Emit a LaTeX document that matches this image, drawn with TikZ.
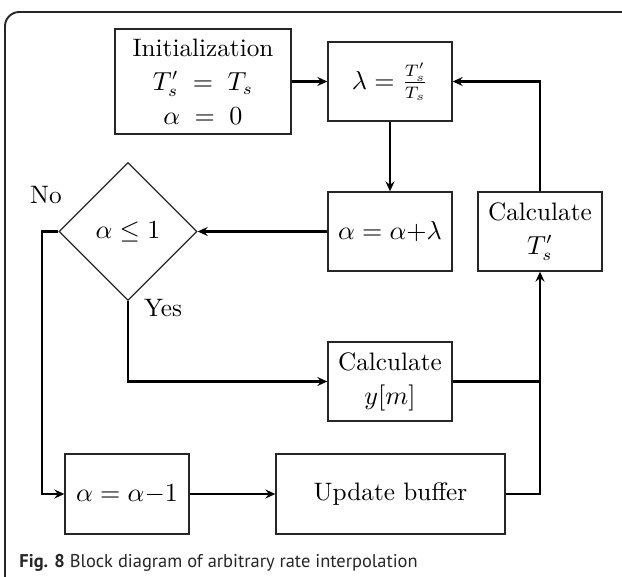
\documentclass[tikz,border=0pt]{standalone}
\usepackage{fontspec}
\newfontfamily\captionfont{PT Sans}
\usetikzlibrary{shapes.geometric,arrows.meta}
\tikzset{
	blockbox/.style={draw=black!85, line width=0.55pt, inner sep=0pt,
		minimum width=52.1pt, minimum height=33.2pt, align=center},
	entscheidung/.style={diamond, draw=black!85, line width=0.55pt,
		inner sep=0pt, minimum width=58pt, minimum height=58pt, aspect=1},
	pfeil/.style={line width=0.85pt, -{Stealth[length=4.2pt,width=3.8pt,inset=1.5pt]}},
	linie/.style={line width=0.85pt},
}
\begin{document}
\begin{tikzpicture}[x=0.42pt, y=-0.42pt, font=\fontsize{10.6}{14.2}\selectfont]
	\useasboundingbox (0,0) rectangle (622,577);
	% Rahmen
	\draw[line width=0.8pt, draw=black!85, rounded corners=6pt] (5,12) rectangle (660,620);
	% Bloecke
	\node[blockbox, minimum width=73.9pt, minimum height=44.1pt] (init) at (203,81.5)
		{Initialization\\ $T'_s \;=\; T_s$\\ $\alpha \;=\; 0$};
	\node[blockbox] (lambda) at (390,81.5) {$\lambda = \frac{T'_s}{T_s}$};
	\node[blockbox] (addl) at (390,231.5) {$\alpha = \alpha{+}\lambda$};
	\node[blockbox] (calct) at (540,231.5) {Calculate\\ $T'_s$};
	\node[entscheidung] (cond) at (128,231.5) {$\alpha \leq 1$};
	\node[blockbox] (calcy) at (390,381.5) {Calculate\\ $y[m]$};
	\node[blockbox, minimum height=33.6pt] (subone) at (127,494) {$\alpha = \alpha{-}1$};
	\node[blockbox, minimum width=96.2pt, minimum height=33.6pt] (update) at (390.5,494)
		{Update buffer};
	% Beschriftungen
	\node (no) at (46,195) {No};
	\node (yes) at (163,308) {Yes};
	% Hilfspunkte
	\coordinate (nocorner) at (42,231.5);
	\coordinate (joint) at (calcy.east -| calct.south);
	% Verbindungen
	\draw[pfeil] (init) -- (lambda);
	\draw[pfeil] (calct.north) |- (lambda.east);
	\draw[pfeil] (lambda) -- (addl);
	\draw[pfeil] (addl) -- (cond);
	\draw[pfeil] (cond.west) -- (nocorner) |- (subone.west);
	\draw[pfeil] (cond.south) |- (calcy.west);
	\draw[pfeil] (subone) -- (update);
	\draw[pfeil] (update.east) -| (calct.south);
	\draw[linie] (calcy.east) -- (joint);
	% Unterschrift
	\node[anchor=base west, inner sep=0pt, text=black!85,
		font=\captionfont\fontsize{7.75}{9}\selectfont] (caption) at (19,567)
		{\textbf{Fig. 8} Block diagram of arbitrary rate interpolation};
\end{tikzpicture}
\end{document}
